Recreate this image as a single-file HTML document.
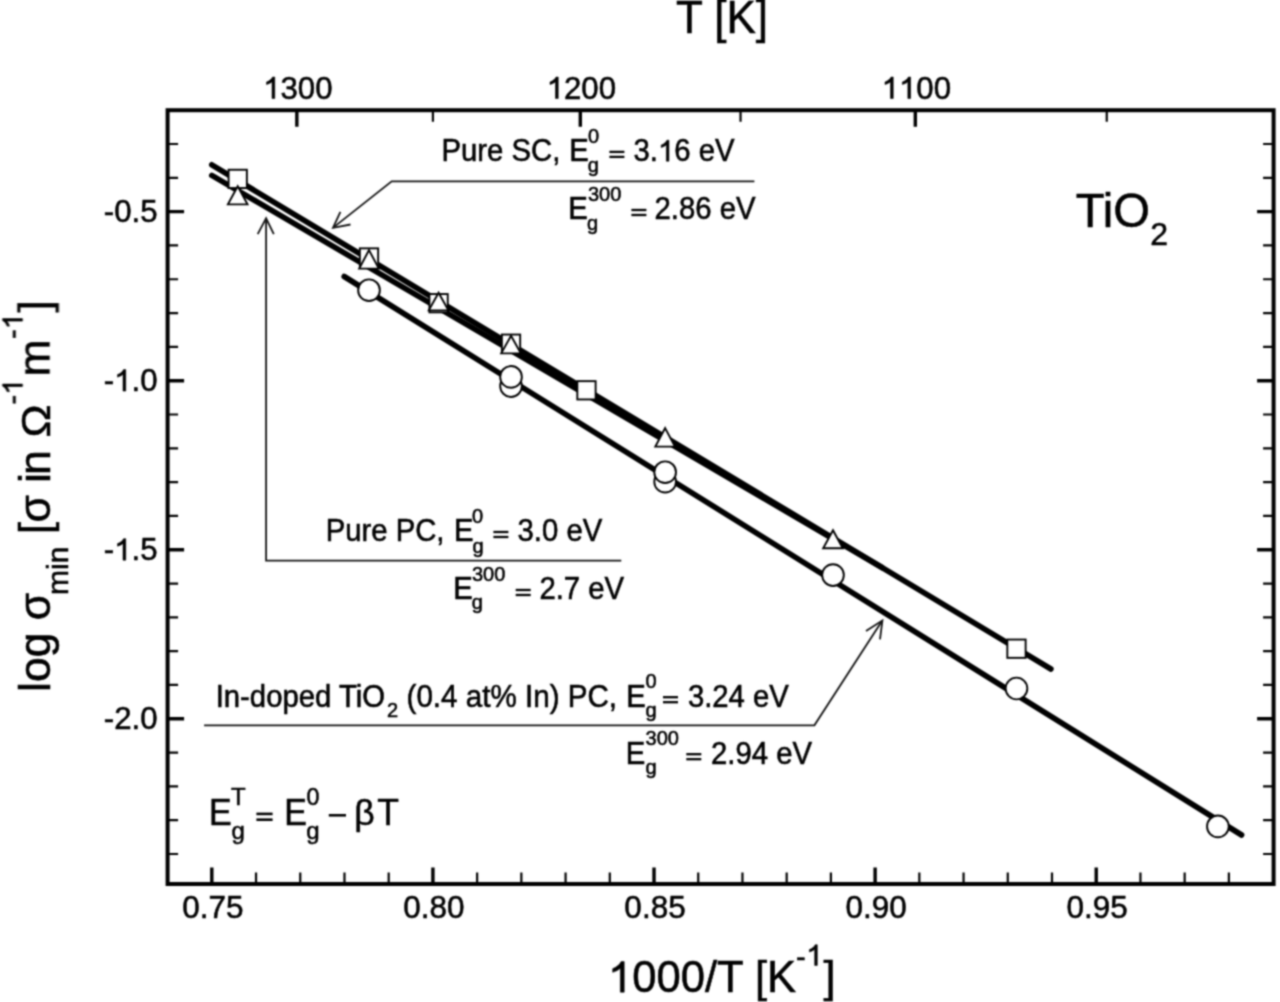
<!DOCTYPE html>
<html><head><meta charset="utf-8"><style>
html,body{margin:0;padding:0;background:#fff;width:1280px;height:1002px;overflow:hidden;}
svg{display:block;}
text{font-family:"Liberation Sans",sans-serif;fill:#000;stroke:#000;stroke-width:0.55px;}
</style></head><body>
<svg width="1280" height="1002" viewBox="0 0 1280 1002">
<defs><filter id="bl" color-interpolation-filters="sRGB" filterUnits="userSpaceOnUse" x="0" y="0" width="1280" height="1002"><feConvolveMatrix order="5" kernelMatrix="0.00048 0.00501 0.01095 0.00501 0.00048 0.00501 0.05222 0.11405 0.05222 0.00501 0.01095 0.11405 0.24912 0.11405 0.01095 0.00501 0.05222 0.11405 0.05222 0.00501 0.00048 0.00501 0.01095 0.00501 0.00048" divisor="1" edgeMode="duplicate" preserveAlpha="false"/></filter></defs><g filter="url(#bl)"><rect x="0" y="0" width="1280" height="1002" fill="#fff"/>
<defs><path id="one" d="M763 0L583 0L583 1100Q510 1035 410 985Q310 940 223 915L223 1085Q370 1140 470 1225Q570 1310 620 1409L763 1409Z" fill="#000" stroke="#000" stroke-width="0.55" vector-effect="non-scaling-stroke"/></defs>
<rect x="167.6" y="110.2" width="1106.0" height="773.8" fill="none" stroke="#000" stroke-width="4.0"/>
<path d="M211.82 884.0V867.5 M432.92 884.0V867.5 M654.02 884.0V867.5 M875.12 884.0V867.5 M1096.22 884.0V867.5 M296.86 110.2V126.7 M580.32 110.2V126.7 M915.32 110.2V126.7 M167.6 211.63H184.1 M1273.6 211.63H1257.1 M167.6 380.68H184.1 M1273.6 380.68H1257.1 M167.6 549.73H184.1 M1273.6 549.73H1257.1 M167.6 718.78H184.1 M1273.6 718.78H1257.1" stroke="#000" stroke-width="3.4" fill="none"/>
<path d="M256.04 884.0V872.5 M300.26 884.0V872.5 M344.48 884.0V872.5 M388.70 884.0V872.5 M477.14 884.0V872.5 M521.36 884.0V872.5 M565.58 884.0V872.5 M609.80 884.0V872.5 M698.24 884.0V872.5 M742.46 884.0V872.5 M786.68 884.0V872.5 M830.90 884.0V872.5 M919.34 884.0V872.5 M963.56 884.0V872.5 M1007.78 884.0V872.5 M1052.00 884.0V872.5 M1140.44 884.0V872.5 M1184.66 884.0V872.5 M1228.88 884.0V872.5 M432.92 110.2V121.7 M740.54 110.2V121.7 M1106.75 110.2V121.7 M167.6 144.01H178.1 M1273.6 144.01H1263.1 M167.6 177.82H178.1 M1273.6 177.82H1263.1 M167.6 245.44H178.1 M1273.6 245.44H1263.1 M167.6 279.25H178.1 M1273.6 279.25H1263.1 M167.6 313.06H178.1 M1273.6 313.06H1263.1 M167.6 346.87H178.1 M1273.6 346.87H1263.1 M167.6 414.49H178.1 M1273.6 414.49H1263.1 M167.6 448.30H178.1 M1273.6 448.30H1263.1 M167.6 482.11H178.1 M1273.6 482.11H1263.1 M167.6 515.92H178.1 M1273.6 515.92H1263.1 M167.6 583.54H178.1 M1273.6 583.54H1263.1 M167.6 617.35H178.1 M1273.6 617.35H1263.1 M167.6 651.16H178.1 M1273.6 651.16H1263.1 M167.6 684.97H178.1 M1273.6 684.97H1263.1 M167.6 752.59H178.1 M1273.6 752.59H1263.1 M167.6 786.40H178.1 M1273.6 786.40H1263.1 M167.6 820.21H178.1 M1273.6 820.21H1263.1 M167.6 854.02H178.1 M1273.6 854.02H1263.1" stroke="#000" stroke-width="2.2" fill="none"/>
<g transform="translate(182.17 917.70)"><text x="0" y="0" font-size="31.5">0.75</text></g>
<g transform="translate(403.27 917.70)"><text x="0" y="0" font-size="31.5">0.80</text></g>
<g transform="translate(624.37 917.70)"><text x="0" y="0" font-size="31.5">0.85</text></g>
<g transform="translate(845.47 917.70)"><text x="0" y="0" font-size="31.5">0.90</text></g>
<g transform="translate(1066.57 917.70)"><text x="0" y="0" font-size="31.5">0.95</text></g>
<g transform="translate(263.15 98.50)"><text x="0" y="0" font-size="31.2"> 300</text><use href="#one" transform="translate(0.00 0) scale(0.01523 -0.01523)"/></g>
<g transform="translate(546.62 98.50)"><text x="0" y="0" font-size="31.2"> 200</text><use href="#one" transform="translate(0.00 0) scale(0.01523 -0.01523)"/></g>
<g transform="translate(881.62 98.50)"><text x="0" y="0" font-size="31.2">  00</text><use href="#one" transform="translate(0.00 0) scale(0.01523 -0.01523)"/><use href="#one" transform="translate(17.35 0) scale(0.01523 -0.01523)"/></g>
<g transform="translate(103.74 222.03)"><text x="0" y="0" font-size="31.2">-0.5</text></g>
<g transform="translate(103.74 391.08)"><text x="0" y="0" font-size="31.2">- .0</text><use href="#one" transform="translate(10.39 0) scale(0.01523 -0.01523)"/></g>
<g transform="translate(103.74 560.13)"><text x="0" y="0" font-size="31.2">- .5</text><use href="#one" transform="translate(10.39 0) scale(0.01523 -0.01523)"/></g>
<g transform="translate(103.74 729.18)"><text x="0" y="0" font-size="31.2">-2.0</text></g>
<g transform="translate(676.01 32.80) scale(1 1.04)"><text x="0" y="0" font-size="44">T [K]</text></g>
<g transform="translate(607.95 992.20) scale(1 1.02)"><text x="0" y="0" font-size="43.6"> 000/T [K</text><use href="#one" transform="translate(0.00 0) scale(0.02129 -0.02129)"/></g>
<g transform="translate(796.11 966.80)"><text x="0" y="0" font-size="29">-</text></g>
<g transform="translate(806.13 965.40)"><text x="0" y="0" font-size="30"> </text><use href="#one" transform="translate(0.00 0) scale(0.01465 -0.01465)"/></g>
<g transform="translate(823.56 992.20) scale(1 1.02)"><text x="0" y="0" font-size="43.6">]</text></g>
<g stroke="#000" stroke-width="5.6" stroke-linecap="round" fill="none">
<path d="M211.8 164.8L1050.9 669"/>
<path d="M211.8 175.4L882 567.5"/>
<path d="M344.2 276.5L1241.6 835"/>
</g>
<g stroke="#111" stroke-width="1.8" fill="none" stroke-linejoin="miter">
<path d="M754.4 181.4H391.7L333.5 227.4"/>
<path d="M340.4 211.9L333 227.8L350.5 224.5"/>
<path d="M621.3 560.7H266.1V218.8"/>
<path d="M257.7 234.2L266.1 218.3L273.8 234.2"/>
<path d="M204.1 725.3H814.4L882 621"/>
<path d="M866 631.1L882.4 620.5L880 639.3"/>
</g>
<circle cx="369.00" cy="290.20" r="10.85" fill="#fff" stroke="#000" stroke-width="1.9"/>
<circle cx="511.02" cy="386.10" r="10.85" fill="#fff" stroke="#000" stroke-width="1.9"/>
<circle cx="511.02" cy="376.90" r="10.85" fill="#fff" stroke="#000" stroke-width="1.9"/>
<circle cx="665.14" cy="481.70" r="10.85" fill="#fff" stroke="#000" stroke-width="1.9"/>
<circle cx="665.14" cy="472.20" r="10.85" fill="#fff" stroke="#000" stroke-width="1.9"/>
<circle cx="832.99" cy="575.10" r="10.85" fill="#fff" stroke="#000" stroke-width="1.9"/>
<circle cx="1016.48" cy="688.50" r="10.85" fill="#fff" stroke="#000" stroke-width="1.9"/>
<circle cx="1217.90" cy="826.40" r="10.85" fill="#fff" stroke="#000" stroke-width="1.9"/>
<rect x="228.57" y="169.75" width="18.3" height="18.3" fill="#fff" stroke="#000" stroke-width="1.9"/>
<rect x="359.85" y="248.35" width="18.3" height="18.3" fill="#fff" stroke="#000" stroke-width="1.9"/>
<rect x="429.44" y="294.05" width="18.3" height="18.3" fill="#fff" stroke="#000" stroke-width="1.9"/>
<rect x="501.87" y="334.55" width="18.3" height="18.3" fill="#fff" stroke="#000" stroke-width="1.9"/>
<rect x="577.32" y="381.15" width="18.3" height="18.3" fill="#fff" stroke="#000" stroke-width="1.9"/>
<rect x="1007.33" y="639.55" width="18.3" height="18.3" fill="#fff" stroke="#000" stroke-width="1.9"/>
<path d="M237.72 186.20L247.52 204.40L227.92 204.40Z" fill="#fff" stroke="#000" stroke-width="1.9" stroke-linejoin="miter" stroke-miterlimit="10"/>
<path d="M369.00 250.10L378.80 268.60L359.20 268.60Z" fill="#fff" stroke="#000" stroke-width="1.9" stroke-linejoin="miter" stroke-miterlimit="10"/>
<path d="M438.59 292.80L448.39 310.40L428.79 310.40Z" fill="#fff" stroke="#000" stroke-width="1.9" stroke-linejoin="miter" stroke-miterlimit="10"/>
<path d="M511.02 335.80L520.82 353.40L501.22 353.40Z" fill="#fff" stroke="#000" stroke-width="1.9" stroke-linejoin="miter" stroke-miterlimit="10"/>
<path d="M665.14 428.10L674.94 446.60L655.34 446.60Z" fill="#fff" stroke="#000" stroke-width="1.9" stroke-linejoin="miter" stroke-miterlimit="10"/>
<path d="M832.99 530.20L842.79 548.20L823.19 548.20Z" fill="#fff" stroke="#000" stroke-width="1.9" stroke-linejoin="miter" stroke-miterlimit="10"/>
<g transform="translate(441.50 161.20) scale(1 1.04)"><text x="0" y="0" font-size="29.3">Pure SC,</text></g>
<g transform="translate(569.20 161.20) scale(1 1.04)"><text x="0" y="0" font-size="29.3">E</text></g>
<g transform="translate(587.92 142.60)"><text x="0" y="0" font-size="20">0</text></g>
<g transform="translate(587.86 171.60)"><text x="0" y="0" font-size="20">g</text></g>
<rect x="609.40" y="150.75" width="15.0" height="2.3"/><rect x="609.40" y="155.75" width="15.0" height="2.3"/>
<g transform="translate(633.58 161.20) scale(1 1.04)"><text x="0" y="0" font-size="29.3">3. 6 eV</text><use href="#one" transform="translate(24.44 0) scale(0.01431 -0.01431)"/></g>
<g transform="translate(568.30 219.30) scale(1 1.04)"><text x="0" y="0" font-size="29.3">E</text></g>
<g transform="translate(587.94 201.10)"><text x="0" y="0" font-size="20">300</text></g>
<g transform="translate(587.06 229.90)"><text x="0" y="0" font-size="20">g</text></g>
<rect x="631.40" y="208.85" width="15.0" height="2.3"/><rect x="631.40" y="213.85" width="15.0" height="2.3"/>
<g transform="translate(654.53 219.30) scale(1 1.04)"><text x="0" y="0" font-size="29.3">2.86 eV</text></g>
<g transform="translate(325.70 541.30) scale(1 1.04)"><text x="0" y="0" font-size="29.3">Pure PC,</text></g>
<g transform="translate(454.00 541.30) scale(1 1.04)"><text x="0" y="0" font-size="29.3">E</text></g>
<g transform="translate(471.92 523.40)"><text x="0" y="0" font-size="20">0</text></g>
<g transform="translate(472.56 552.80)"><text x="0" y="0" font-size="20">g</text></g>
<rect x="493.40" y="530.85" width="15.0" height="2.3"/><rect x="493.40" y="535.85" width="15.0" height="2.3"/>
<g transform="translate(517.58 541.30) scale(1 1.04)"><text x="0" y="0" font-size="29.3">3.0 eV</text></g>
<g transform="translate(453.20 599.30) scale(1 1.04)"><text x="0" y="0" font-size="29.3">E</text></g>
<g transform="translate(471.94 580.50)"><text x="0" y="0" font-size="20">300</text></g>
<g transform="translate(471.86 609.20)"><text x="0" y="0" font-size="20">g</text></g>
<rect x="515.70" y="588.85" width="15.0" height="2.3"/><rect x="515.70" y="593.85" width="15.0" height="2.3"/>
<g transform="translate(539.43 599.30) scale(1 1.04)"><text x="0" y="0" font-size="29.3">2.7 eV</text></g>
<g transform="translate(215.70 706.50) scale(1 1.04)"><text x="0" y="0" font-size="29.3">In-doped TiO</text></g>
<g transform="translate(387.09 716.60)"><text x="0" y="0" font-size="20">2</text></g>
<g transform="translate(406.56 706.50) scale(1 1.04)"><text x="0" y="0" font-size="29.6">(0.4 at% In) PC,</text></g>
<g transform="translate(626.30 706.50) scale(1 1.04)"><text x="0" y="0" font-size="29.3">E</text></g>
<g transform="translate(645.52 688.00)"><text x="0" y="0" font-size="20">0</text></g>
<g transform="translate(645.46 716.90)"><text x="0" y="0" font-size="20">g</text></g>
<rect x="663.00" y="696.05" width="15.0" height="2.3"/><rect x="663.00" y="701.05" width="15.0" height="2.3"/>
<g transform="translate(687.88 706.50) scale(1 1.04)"><text x="0" y="0" font-size="29.3">3.24 eV</text></g>
<g transform="translate(625.70 763.50) scale(1 1.04)"><text x="0" y="0" font-size="29.3">E</text></g>
<g transform="translate(645.54 745.20)"><text x="0" y="0" font-size="20">300</text></g>
<g transform="translate(645.46 774.10)"><text x="0" y="0" font-size="20">g</text></g>
<rect x="686.30" y="753.05" width="15.0" height="2.3"/><rect x="686.30" y="758.05" width="15.0" height="2.3"/>
<g transform="translate(711.03 763.50) scale(1 1.04)"><text x="0" y="0" font-size="29.3">2.94 eV</text></g>
<g transform="translate(1075.74 226.70) scale(1 1.03)"><text x="0" y="0" font-size="47.2">TiO</text></g>
<g transform="translate(1150.19 244.60)"><text x="0" y="0" font-size="32">2</text></g>
<g transform="translate(209.11 825.30) scale(1 1.08)"><text x="0" y="0" font-size="34">E</text></g>
<g transform="translate(230.96 804.60)"><text x="0" y="0" font-size="24">T</text></g>
<g transform="translate(231.49 839.10)"><text x="0" y="0" font-size="24">g</text></g>
<rect x="256.40" y="812.60" width="16.2" height="2.6"/><rect x="256.40" y="818.40" width="16.2" height="2.6"/>
<g transform="translate(284.21 825.30) scale(1 1.08)"><text x="0" y="0" font-size="34">E</text></g>
<g transform="translate(306.49 804.90)"><text x="0" y="0" font-size="23.3">0</text></g>
<g transform="translate(306.19 839.10)"><text x="0" y="0" font-size="24">g</text></g>
<rect x="328.8" y="814.0" width="17.2" height="2.6"/>
<g transform="translate(354.24 825.30)"><text x="0" y="0" font-size="35.5">β</text></g>
<g transform="translate(377.20 825.30) scale(1 1.03)"><text x="0" y="0" font-size="35.5">T</text></g>
<g transform="translate(49.5 689) rotate(-90)">
<text x="-3" y="0" font-size="44.5">log σ</text>
<text x="94" y="18" font-size="30">min</text>
<text x="154.8" y="0" font-size="44.5">[</text>
<text x="166.4" y="0" font-size="44.5">σ</text>
<text x="206.0" y="0" font-size="44.5">i</text>
<text x="213.9" y="0" font-size="44.5">n</text>
<g transform="translate(251.50 0.00) scale(1 0.93)"><text x="0" y="0" font-size="44.5">Ω</text></g>
<g transform="translate(284.50 -27.00)"><text x="0" y="0" font-size="29">- </text><use href="#one" transform="translate(9.66 0) scale(0.01416 -0.01416)"/></g>
<text x="312.5" y="0" font-size="44.5">m</text>
<g transform="translate(350.00 -27.00)"><text x="0" y="0" font-size="29">- </text><use href="#one" transform="translate(9.66 0) scale(0.01416 -0.01416)"/></g>
<text x="376.5" y="0" font-size="44.5">]</text>
</g>
</g>
</svg>
</body></html>
